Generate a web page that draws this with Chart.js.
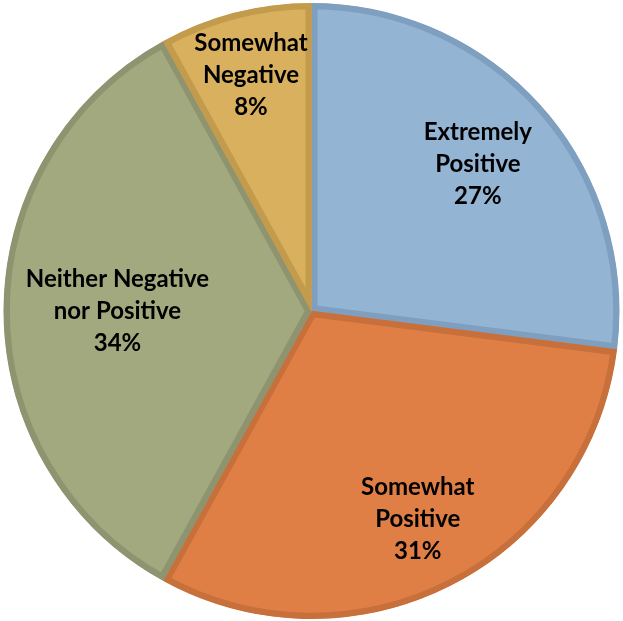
<!DOCTYPE html>
<html>
<head>
<meta charset="utf-8">
<script src="https://cdn.jsdelivr.net/npm/chart.js@4"></script>
<style>
  html, body { margin: 0; padding: 0; background: #fff; }
  #wrap { width: 623px; height: 621px; }
</style>
</head>
<body>
<div id="wrap"><canvas id="js--chart"></canvas></div>
<script>
const labels = [
    ["Extremely", "Positive"],
    ["Somewhat", "Positive"],
    ["Neither Negative", "nor Positive"],
    ["Somewhat", "Negative"]
];
const percentages = [27, 31, 34, 8];

const fillColors = ['#94b4d4', '#e07f45', '#a3a97f', '#d8b05e'];
const edgeColors = ['#7f9fc0', '#c8703c', '#8e9470', '#c29b4d'];
const labelRadius = [0.72, 0.76, 0.63, 0.79];

const pieLabels = {
    id: 'pieLabels',
    afterDatasetsDraw(chart) {
        const ctx = chart.ctx;
        const meta = chart.getDatasetMeta(0);
        ctx.save();
        ctx.font = 'bold 24px Lato, "Open Sans", sans-serif';
        ctx.fillStyle = '#000';
        ctx.textAlign = 'center';
        ctx.textBaseline = 'middle';
        meta.data.forEach((arc, i) => {
            const mid = (arc.startAngle + arc.endAngle) / 2;
            const r = arc.outerRadius * labelRadius[i];
            const x = arc.x + Math.cos(mid) * r;
            const y = arc.y + Math.sin(mid) * r;
            const lines = labels[i].concat([percentages[i] + '%']);
            const lh = 32;
            lines.forEach((line, j) => {
                ctx.fillText(line, x, y + (j - (lines.length - 1) / 2) * lh);
            });
        });
        ctx.restore();
    }
};

new Chart(document.getElementById('js--chart'), {
    type: 'pie',
    data: {
        labels: labels,
        datasets: [{
            data: percentages,
            backgroundColor: fillColors,
            borderColor: edgeColors,
            borderWidth: 6,
            borderAlign: 'inner'
        }]
    },
    options: {
        responsive: true,
        maintainAspectRatio: false,
        animation: false,
        layout: { padding: { top: 3, bottom: 2, left: 3, right: 3 } },
        plugins: {
            legend: { display: false },
            tooltip: { enabled: false }
        }
    },
    plugins: [pieLabels]
});
</script>
</body>
</html>
